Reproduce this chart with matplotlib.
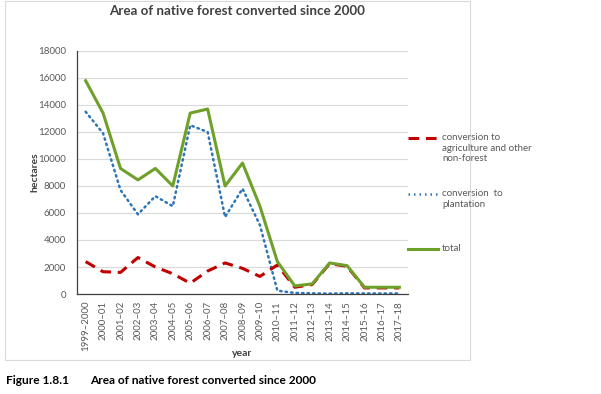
import numpy as np
import matplotlib.pyplot as plt
from matplotlib.lines import Line2D
from matplotlib.patches import Rectangle

plt.rcParams['font.family'] = ['Lato', 'DejaVu Sans']

# periods on the x axis
years = ['1999–2000', '2000–01', '2001–02', '2002–03', '2003–04', '2004–05',
         '2005–06', '2006–07', '2007–08', '2008–09', '2009–10', '2010–11',
         '2011–12', '2012–13', '2013–14', '2014–15', '2015–16', '2016–17',
         '2017–18']

# hectares converted
agriculture = [2400, 1650, 1600, 2700, 2000, 1500, 800, 1700, 2300, 1900,
               1300, 2150, 500, 700, 2250, 2050, 450, 450, 450]
plantation = [13500, 11900, 7700, 5900, 7250, 6500, 12500, 12000, 5700, 7800,
              5100, 250, 80, 50, 30, 50, 40, 40, 40]
total = [15800, 13400, 9300, 8450, 9300, 8000, 13400, 13700, 8000, 9700,
         6500, 2400, 600, 750, 2300, 2100, 500, 500, 500]

c_agri = '#C00000'
c_plant = '#2E75B6'
c_total = '#6FA12A'
grey = '#595959'

fig = plt.figure(figsize=(6.01, 3.94), dpi=100)
ax = fig.add_axes([0.128, 0.2538, 0.551, 0.6168])

x = np.arange(len(years))
ax.plot(x, plantation, color=c_plant, lw=1.8, linestyle=(0, (0.6, 1.6)),
        dash_capstyle='round')
ax.plot(x, agriculture, color=c_agri, lw=2.2, linestyle=(0, (3.5, 2.2)))
ax.plot(x, total, color=c_total, lw=2.2)

ax.set_xlim(-0.5, len(years) - 0.5)
ax.set_ylim(0, 18000)
ax.set_yticks(np.arange(0, 18001, 2000))
ax.set_xticks(x)
ax.set_xticklabels(years, rotation=90, fontsize=7, color=grey)
ax.tick_params(axis='y', labelsize=7, colors=grey, length=0, pad=8)
ax.tick_params(axis='x', length=0, pad=5)
ax.grid(axis='y', color='#D9D9D9', lw=0.8)
ax.set_axisbelow(True)
for s in ['top', 'right']:
    ax.spines[s].set_visible(False)
ax.spines['left'].set_color('#404040')
ax.spines['bottom'].set_color('#404040')
ax.spines['left'].set_linewidth(0.9)
ax.spines['bottom'].set_linewidth(0.9)

ax.set_ylabel('hectares', fontsize=7.5, fontweight='bold', color='#404040', labelpad=-1)
ax.set_xlabel('year', fontsize=7.5, fontweight='bold', color='#404040', labelpad=-2)

fig.text(0.394, 0.972, 'Area of native forest converted since 2000', ha='center',
         va='center', fontsize=9.6, fontweight='bold', color='#404040')

# legend drawn by hand to match the spacing of the original
leg = [(c_agri, (0, (3.5, 2.2)), 2.2,
        'conversion to\nagriculture and other\nnon-forest', 138),
       (c_plant, (0, (0.6, 1.6)), 1.8, 'conversion  to\nplantation', 194),
       (c_total, '-', 2.2, 'total', 249)]
for col, ls, lw, lab, ypx in leg:
    yf = 1 - ypx / 394
    fig.add_artist(Line2D([408 / 601, 438 / 601], [yf, yf], color=col,
                          linestyle=ls, lw=lw, transform=fig.transFigure))
    fig.text(442 / 601, yf + 0.013, lab, ha='left', va='top', fontsize=7,
             color=grey, linespacing=1.25)

# light frame around the chart
fig.add_artist(Rectangle((5 / 601, 1 - 360 / 394), 465 / 601, 359 / 394,
                         fill=False, edgecolor='#D9D9D9', lw=0.8,
                         transform=fig.transFigure))

fig.text(6 / 601, 1 - 381 / 394, 'Figure 1.8.1', fontsize=8.6,
         fontweight='bold', va='center')
fig.text(90 / 601, 1 - 381 / 394, 'Area of native forest converted since 2000',
         fontsize=8.6, fontweight='bold', va='center')

fig.savefig('out.png', dpi=100)
